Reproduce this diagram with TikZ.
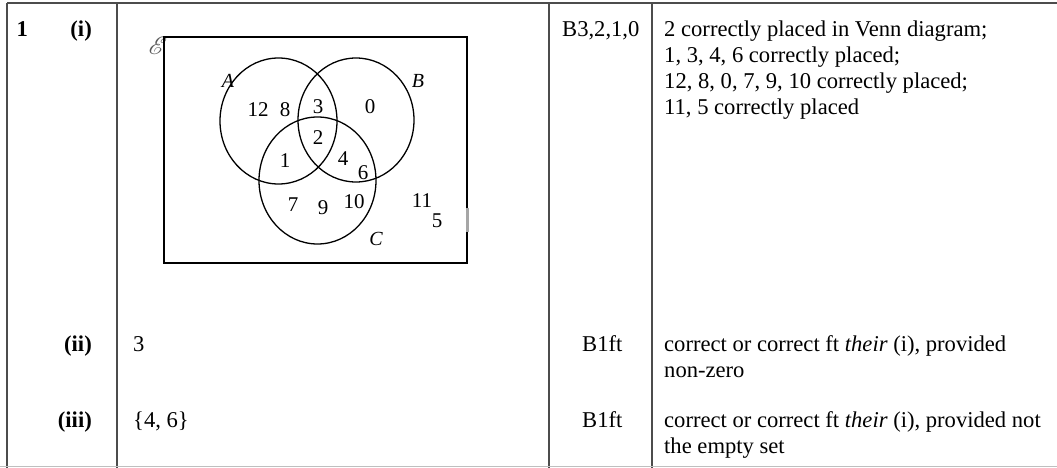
\documentclass[tikz,border=0pt]{standalone}
\usepackage{fontspec}
\setmainfont{Liberation Serif}
\usepackage{mathrsfs}
\begin{document}
\begin{tikzpicture}[x=1pt,y=-1pt,
  rule/.style={draw=black!70,line width=1.3pt},
  txt/.style={anchor=base west,inner sep=0pt,font=\fontsize{22.6}{26}\selectfont},
  txtr/.style={anchor=base east,inner sep=0pt,font=\fontsize{22.6}{26}\selectfont\bfseries},
  venn/.style={draw=black,line width=1.3pt},
  num/.style={inner sep=0pt,font=\fontsize{21}{22}\selectfont},
  lab/.style={inner sep=0pt,font=\fontsize{20}{22}\selectfont\itshape}]
\useasboundingbox (0,0) rectangle (1057,468);
% table rules
\coordinate (tl) at (7,3);
\coordinate (tr) at (1057,3);
\coordinate (c1t) at (117,3);
\coordinate (c1b) at (117,468);
\coordinate (c2t) at (549,3);
\coordinate (c2b) at (549,468);
\coordinate (c3t) at (652,3);
\coordinate (c3b) at (652,468);
\coordinate (bl) at (7,468);
\coordinate (blo) at (0,466);
\coordinate (bro) at (1057,466);
\draw[rule] (tl) -- (tr);
\draw[rule] (tl) -- (bl);
\draw[rule] (c1t) -- (c1b);
\draw[rule] (c2t) -- (c2b);
\draw[rule] (c3t) -- (c3b);
\draw[draw=black!25,line width=0.8pt] (blo) -- (bro);
% first column
\node[txtr] (q1) at (28,37) {1};
\node[txtr] (qi) at (92,37) {(i)};
\node[txtr] (qii) at (92,351) {(ii)};
\node[txtr] (qiii) at (92,427) {(iii)};
% answers
\node[txt] (a2) at (133,351) {3};
\node[txt] (a3) at (133,427) {\{4, 6\}};
% marks
\node[txt] (m1) at (562,37) {B3,2,1,0};
\node[txt] (m2) at (582,351) {B1ft};
\node[txt] (m3) at (582,427) {B1ft};
% guidance
\node[txt] (g1) at (664,37) {2 correctly placed in Venn diagram;};
\node[txt] (g2) at (664,63) {1, 3, 4, 6 correctly placed;};
\node[txt] (g3) at (664,89) {12, 8, 0, 7, 9, 10 correctly placed;};
\node[txt] (g4) at (664,115) {11, 5 correctly placed};
\node[txt] (g5) at (664,351) {correct or correct ft \textit{their} (i), provided};
\node[txt] (g6) at (664,377) {non-zero};
\node[txt] (g7) at (664,427) {correct or correct ft \textit{their} (i), provided not};
\node[txt] (g8) at (664,453) {the empty set};
% Venn diagram
\node[inner sep=0pt,text=black!65,font=\fontsize{28}{28}\selectfont] (E) at (158,46) {$\mathscr{E}$};
\draw[venn] (164,37) rectangle (467,263);
\draw[draw=black!35,line width=3pt] (467,208) -- (467,232);
\draw[venn] (278.5,121) ellipse [x radius=58.5pt,y radius=63pt];
\draw[venn] (356,120) ellipse [x radius=58pt,y radius=62pt];
\draw[venn] (317.5,180.5) ellipse [x radius=58.5pt,y radius=63.5pt];
\node[lab] (lA) at (228,81) {A};
\node[lab] (lB) at (418,81) {B};
\node[lab] (lC) at (376,239) {C};
\node[num] (n12) at (258,110) {12};
\node[num] (n8) at (285,110) {8};
\node[num] (n3) at (318,107) {3};
\node[num] (n0) at (370,107) {0};
\node[num] (n2) at (318,138) {2};
\node[num] (n1) at (285,161) {1};
\node[num] (n4) at (343,159) {4};
\node[num] (n6) at (363,173) {6};
\node[num] (n7) at (293,205) {7};
\node[num] (n9) at (323,208) {9};
\node[num] (n10) at (354,202) {10};
\node[num] (n11) at (422,201) {11};
\node[num] (n5) at (437,221) {5};
\end{tikzpicture}
\end{document}
